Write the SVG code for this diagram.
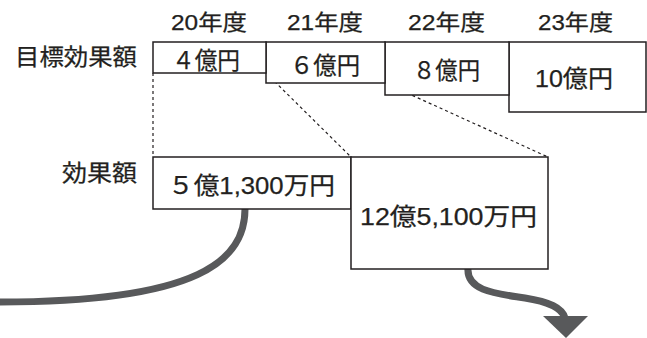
<svg xmlns="http://www.w3.org/2000/svg" width="647" height="338" viewBox="0 0 647 338">
<style>
text{font-family:"Liberation Sans","Noto Sans CJK JP",sans-serif;font-size:22px;fill:#231f20;stroke:#231f20;stroke-width:0.25}
.v{font-size:24px}
.l{font-size:23px}
.box{fill:#fff;stroke:#231f20;stroke-width:1.5}
.dash{fill:none;stroke:#231f20;stroke-width:1.2;stroke-dasharray:3 3}
.thick{fill:none;stroke:#58595b;stroke-width:7}
</style>
<rect width="647" height="338" fill="#fff"/>
<g id="labels">
<text x="171" y="30" textLength="76" lengthAdjust="spacingAndGlyphs">20年度</text>
<text x="287" y="30" textLength="76" lengthAdjust="spacingAndGlyphs">21年度</text>
<text x="408" y="30" textLength="77" lengthAdjust="spacingAndGlyphs">22年度</text>
<text x="538" y="30" textLength="75" lengthAdjust="spacingAndGlyphs">23年度</text>
<text class="l" x="15" y="65" textLength="122" lengthAdjust="spacingAndGlyphs">目標効果額</text>
<text class="l" x="62" y="181" textLength="75" lengthAdjust="spacingAndGlyphs">効果額</text>
</g>
<g id="connectors">
<path class="dash" d="M153 73 V157"/>
<path class="dash" d="M266 73 L351 157"/>
<path class="dash" d="M385 83 L548 157"/>
<path class="thick" d="M245 209 C245 260 200 302 0 302"/>
<path class="thick" d="M468 268 C466 292 500 294 525 298 C550 302 562 308 565 318"/>
<polygon points="543,316 588,316 566,338" fill="#58595b"/>
</g>
<g id="t23">
<rect class="box" x="509" y="42" width="137" height="70"/>
<text class="v" x="535" y="87" textLength="78" lengthAdjust="spacingAndGlyphs">10億円</text>
</g>
<g id="t22">
<rect class="box" x="385" y="42" width="124" height="53"/>
<text class="v" x="413" y="79" textLength="67" lengthAdjust="spacingAndGlyphs">８億円</text>
</g>
<g id="t21">
<rect class="box" x="266" y="42" width="119" height="41"/>
<text class="v" x="290" y="74" textLength="70" lengthAdjust="spacingAndGlyphs">６億円</text>
</g>
<g id="t20">
<rect class="box" x="153" y="42" width="113" height="31"/>
<text class="v" x="172" y="69" textLength="68" lengthAdjust="spacingAndGlyphs">４億円</text>
</g>
<g id="a20">
<rect class="box" x="153" y="157" width="198" height="52"/>
<text class="v" x="168" y="194" textLength="167" lengthAdjust="spacingAndGlyphs">５億1,300万円</text>
</g>
<g id="a21">
<rect class="box" x="351" y="157" width="197" height="112"/>
<text class="v" x="360" y="225" textLength="177" lengthAdjust="spacingAndGlyphs">12億5,100万円</text>
</g>
</svg>
